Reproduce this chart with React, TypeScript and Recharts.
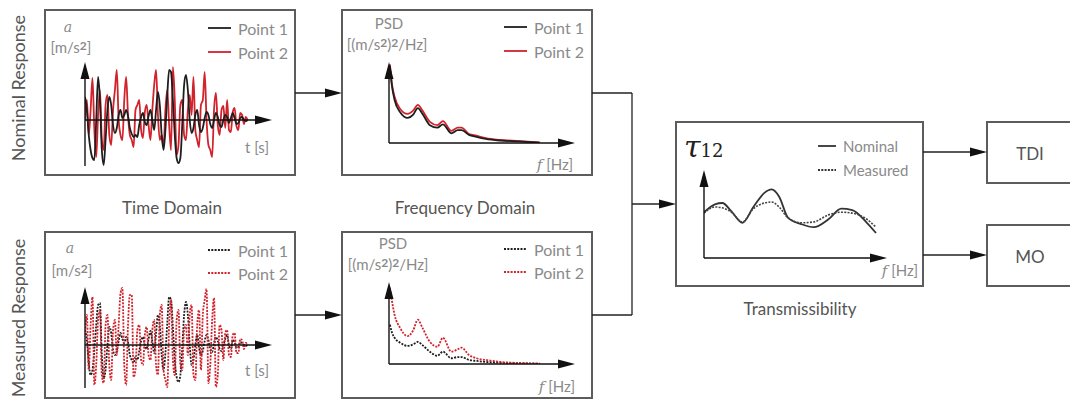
import React from "react";
import { LineChart, Line, XAxis, YAxis, ReferenceLine } from "recharts";

const FONT = "Lato, 'Open Sans', sans-serif";
const INK = "#1e1e1e";
const RED = "#d2222c";
const GRAY = "#8a8a8a";
const BOX = "#5c5c5c";

// time signals, one sample per step on a 0..100 time axis
const nominalTime1 = [
  23, 10, -15, -30, -38, -40, 0, 43, 20, -30,
  -45, -20, 10, 23, 15, -5, -13, -8, 5, 10,
  2, 5, 10, 4, -8, -14, -17, -15, -17, -5,
  3, 7, -2, -5, 4, 10, 0, -10, 10, 28,
  15, -15, -30, -10, 25, 50, 48, 20, -15, -38,
  -43, -38, -5, 35, 45, 30, 0, -13, -8, 5,
  10, -5, -12, -8, 2, 8, 5, -4, -8, 0,
  7, 3, -5, -7, 0, 5, 3, -3, 2, 7,
  2, -4, -3, 2, 3, 0, -1, 0,
];
const nominalTime2 = [
  0, 20, -15, 10, 42, -10, -37, 5, 30, -20,
  -30, 15, 25, -15, -25, 10, 30, 50, 0, -15,
  -20, 20, 43, 5, -15, -20, -27, 10, 15, 20,
  -10, -18, 8, 15, -5, -20, 10, 35, 50, 5,
  -20, -15, -27, 10, 30, -5, -30, 53, 20, -35,
  -25, 15, 20, -15, -20, 10, 25, 5, 43, -10,
  -20, -27, 15, 20, 48, 0, -25, -30, -37, 10,
  27, -5, -15, 10, 14, -8, 20, -10, -12, 8,
  12, -6, -10, 7, 5, -4, 3, 0,
];
const measuredTime1 = [
  15, 5, -18, -30, -25, -5, 20, 40, 42, -10,
  -33, -25, 0, 18, 12, -5, -10, -6, 4, 12,
  6, 2, 8, 3, -10, -15, -18, -12, -15, -6,
  4, 8, 0, -4, 6, 14, 4, -8, 12, 30,
  20, -10, -25, -8, 22, 48, 45, 18, -15, -32,
  -37, -30, -3, 30, 43, 30, 0, -20, -15, 0,
  10, -3, -10, -6, 4, 10, 5, -5, -7, 2,
  8, 4, -4, -6, 0, 6, 10, 0, -4, 5,
  3, -3, -2, 3, 2, 0, -1, 0,
];
const measuredTime2 = [
  10, 30, -25, 20, 48, -40, -20, 25, 35, -30,
  -38, 20, 30, -20, -35, 15, 25, -10, 20, 52,
  57, -20, -40, 20, 50, 50, -32, -25, 15, 20,
  -15, -20, 10, 18, -10, -15, 15, 25, -20, -30,
  30, 40, -25, -35, -42, 20, 45, -15, -30, 25,
  35, -20, -25, 15, 20, -10, 30, 40, -30, -35,
  20, 35, -25, 30, 45, 56, -38, -20, 25, 47,
  -42, -30, 20, 15, -15, 12, 15, -10, -12, 10,
  12, -8, -8, 6, 5, -4, 2, 0,
];

// PSD, frequency on a 0..100 axis
const psdFreq = [0.5, 1.5, 3, 6, 10, 13, 15.5, 18, 22, 26, 29, 33.5, 37, 39, 43, 47, 52, 60, 70, 81];
const nominalPsd1 = [95, 72, 53, 38, 31, 35, 43, 36, 22, 19, 23, 12, 16, 16, 10, 7.5, 5, 3, 2, 0.5];
const nominalPsd2 = [97, 74, 57, 42, 36, 40, 47, 40, 26, 22, 27, 15, 19, 19, 11, 9, 6, 3.7, 2.4, 0.6];
const measuredPsd1 = [48, 39, 32, 26, 22, 24, 27, 23, 15, 10, 15, 7, 8.5, 8.5, 5, 3.7, 2.5, 1.5, 0.8, 0.4];
const measuredPsd2 = [93, 78, 60, 44, 34, 41, 54, 44, 27, 21, 32, 15, 18, 20, 11, 7, 5, 2.5, 1.2, 0.5];

// transmissibility tau12
const transFreq = [0, 6, 10, 15, 21, 27, 33, 37, 41, 46, 53, 60, 68, 75, 81, 89, 94];
const transNominal = [52, 61, 62.5, 53, 40, 58, 74, 78, 70, 45.5, 38.6, 35, 44, 56, 54.5, 40, 28.4];
const transMeasured = [51, 58, 57, 52, 41, 56, 62.5, 63.6, 58, 45.5, 40, 41, 49, 52, 51, 44, 35];

const pointNames = ["Point 1", "Point 2"];
const transNames = ["Nominal", "Measured"];

const timeRows = (a: number[], b: number[]) => a.map((v, i) => ({ x: i, p1: v, p2: b[i] }));
const freqRows = (f: number[], a: number[], b: number[]) => f.map((x, i) => ({ x, p1: a[i], p2: b[i] }));

const AxisH = (p: any) => {
  const a = Math.min(p.x1, p.x2);
  const b = Math.max(p.x1, p.x2);
  const y = p.y1;
  return (
    <g>
      <line x1={a} y1={y} x2={b - 12} y2={y} stroke="#111" strokeWidth={1.4} />
      <polygon points={`${b},${y} ${b - 17},${y - 4.5} ${b - 17},${y + 4.5}`} fill="#111" />
    </g>
  );
};

const AxisV = (p: any) => {
  const top = Math.min(p.y1, p.y2);
  const bot = Math.max(p.y1, p.y2);
  const x = p.x1;
  return (
    <g>
      <line x1={x} y1={bot} x2={x} y2={top + 12} stroke="#111" strokeWidth={1.4} />
      <polygon points={`${x},${top} ${x - 4.5},${top + 17} ${x + 4.5},${top + 17}`} fill="#111" />
    </g>
  );
};

type Series = { key: string; color: string; dashed?: boolean; width?: number };

const Panel = ({ left, top, width, height, margin, data, yDomain, baseY, series }: {
  left: number; top: number; width: number; height: number;
  margin: { top: number; right: number; bottom: number; left: number };
  data: any[]; yDomain: [number, number]; baseY: number; series: Series[];
}) => (
  <div style={{ position: "absolute", left, top }}>
    <LineChart width={width} height={height} data={data} margin={margin}>
      <XAxis dataKey="x" type="number" domain={[0, 100]} allowDataOverflow hide />
      <YAxis type="number" domain={yDomain} allowDataOverflow hide />
      {series.map((s) => (
        <Line key={s.key} dataKey={s.key} type="monotone" stroke={s.color} strokeWidth={s.width ?? 1.8}
          strokeDasharray={s.dashed ? "2 1.3" : undefined} dot={false} isAnimationActive={false} />
      ))}
      <ReferenceLine y={baseY} shape={AxisH} />
      <ReferenceLine x={0} shape={AxisV} />
    </LineChart>
  </div>
);

const Txt = ({ x, y, size = 15, color = GRAY, italic, family, children }: any) => (
  <div style={{
    position: "absolute", left: x, top: y, transform: "translate(-50%, -50%)", whiteSpace: "nowrap",
    fontSize: size, color, fontStyle: italic ? "italic" : "normal", fontFamily: family ?? FONT, lineHeight: 1,
  }}>{children}</div>
);

const LegendRow = ({ x, y, color, dashed, label, len = 23, size = 16 }: any) => (
  <div style={{ position: "absolute", left: x, top: y - 10, height: 20, display: "flex", alignItems: "center", whiteSpace: "nowrap" }}>
    <svg width={len} height={4} style={{ marginRight: 7 }}>
      <line x1={0} y1={2} x2={len} y2={2} stroke={color} strokeWidth={1.8} strokeDasharray={dashed ? "2 1.3" : undefined} />
    </svg>
    <span style={{ fontSize: size, color: GRAY, fontFamily: FONT }}>{label}</span>
  </div>
);

const Arrow = ({ x1, x2, y }: { x1: number; x2: number; y: number }) => (
  <g>
    <line x1={x1} y1={y} x2={x2 - 10} y2={y} stroke="#222" strokeWidth={1.3} />
    <polygon points={`${x2},${y} ${x2 - 17},${y - 4.5} ${x2 - 17},${y + 4.5}`} fill="#111" />
  </g>
);

const solid = [{ key: "p2", color: RED }, { key: "p1", color: INK }];
const dotted = [{ key: "p1", color: INK, dashed: true }, { key: "p2", color: RED, dashed: true }];

const sq = <span style={{ fontWeight: 700, fontSize: "0.8em", verticalAlign: "0.25em" }}>2</span>;

export default function App() {
  return (
    <div style={{ position: "absolute", left: 0, top: 0, width: 1070, height: 405, overflow: "hidden", background: "#fff", fontFamily: FONT }}>
      <svg width={1070} height={405} style={{ position: "absolute", left: 0, top: 0 }}>
        <g fill="none" stroke={BOX} strokeWidth={2}>
          <rect x={45} y={10} width={250} height={165} />
          <rect x={342} y={10} width={250} height={165} />
          <rect x={45} y={232} width={250} height={166} />
          <rect x={342} y={232} width={250} height={166} />
          <rect x={676} y={122} width={247} height={164} />
          <rect x={987} y={122} width={100} height={61} />
          <rect x={987} y={225} width={100} height={61} />
        </g>
        <Arrow x1={295} x2={342} y={93} />
        <Arrow x1={295} x2={342} y={315} />
        <g stroke="#222" strokeWidth={1.3}>
          <line x1={592} y1={93} x2={632} y2={93} />
          <line x1={592} y1={315} x2={632} y2={315} />
          <line x1={632} y1={93} x2={632} y2={315} />
        </g>
        <Arrow x1={632} x2={676} y={204} />
        <Arrow x1={923} x2={987} y={152} />
        <Arrow x1={923} x2={987} y={255} />
      </svg>

      <Panel left={45} top={10} width={250} height={165} margin={{ top: 52, right: 23, bottom: 9, left: 40 }}
        data={timeRows(nominalTime1, nominalTime2)} yDomain={[-46, 58]} baseY={0} series={solid} />
      <Panel left={342} top={10} width={250} height={165} margin={{ top: 52, right: 17, bottom: 32, left: 47 }}
        data={freqRows(psdFreq, nominalPsd1, nominalPsd2)} yDomain={[0, 100]} baseY={0} series={solid} />
      <Panel left={45} top={232} width={250} height={166} margin={{ top: 55, right: 23, bottom: 10, left: 40 }}
        data={timeRows(measuredTime1, measuredTime2)} yDomain={[-43, 58]} baseY={0} series={dotted} />
      <Panel left={342} top={232} width={250} height={166} margin={{ top: 50, right: 17, bottom: 34, left: 47 }}
        data={freqRows(psdFreq, measuredPsd1, measuredPsd2)} yDomain={[0, 100]} baseY={0} series={dotted} />
      <Panel left={676} top={122} width={247} height={164} margin={{ top: 48, right: 36, bottom: 28, left: 28 }}
        data={freqRows(transFreq, transNominal, transMeasured)} yDomain={[0, 100]} baseY={0}
        series={[{ key: "p1", color: "#333", width: 1.8 }, { key: "p2", color: "#444", dashed: true, width: 1.6 }]} />

      {/* side and panel titles */}
      <div style={{ position: "absolute", left: 18, top: 88, transform: "translate(-50%, -50%) rotate(-90deg)", whiteSpace: "nowrap", fontSize: 18, color: "#555" }}>Nominal Response</div>
      <div style={{ position: "absolute", left: 18, top: 318, transform: "translate(-50%, -50%) rotate(-90deg)", whiteSpace: "nowrap", fontSize: 18, color: "#555" }}>Measured Response</div>
      <Txt x={172} y={207} size={17} color="#555">Time Domain</Txt>
      <Txt x={465} y={207} size={17} color="#555">Frequency Domain</Txt>
      <Txt x={800} y={308} size={17} color="#555">Transmissibility</Txt>
      <Txt x={1030} y={153} size={17} color="#555">TDI</Txt>
      <Txt x={1030} y={256} size={17} color="#555">MO</Txt>

      {/* axis labels */}
      <Txt x={68} y={27} italic family="'DejaVu Serif', serif" size={14}>a</Txt>
      <Txt x={71} y={47}>[m/s{sq}]</Txt>
      <Txt x={257} y={147}>t [s]</Txt>
      <Txt x={70} y={248} italic family="'DejaVu Serif', serif" size={14}>a</Txt>
      <Txt x={72} y={270}>[m/s{sq}]</Txt>
      <Txt x={257} y={370}>t [s]</Txt>

      <Txt x={389} y={23}>PSD</Txt>
      <Txt x={387} y={44}>[(m/s{sq}){sq}/Hz]</Txt>
      <Txt x={555} y={165}><i style={{ fontFamily: "'DejaVu Serif', serif" }}>f</i> [Hz]</Txt>
      <Txt x={393} y={243}>PSD</Txt>
      <Txt x={388} y={264}>[(m/s{sq}){sq}/Hz]</Txt>
      <Txt x={557} y={387}><i style={{ fontFamily: "'DejaVu Serif', serif" }}>f</i> [Hz]</Txt>
      <Txt x={900} y={271}><i style={{ fontFamily: "'DejaVu Serif', serif" }}>f</i> [Hz]</Txt>

      <div style={{ position: "absolute", left: 684, top: 132, whiteSpace: "nowrap", color: "#222", lineHeight: 1 }}>
        <span style={{ fontFamily: "'DejaVu Serif', serif", fontStyle: "italic", fontSize: 30 }}>τ</span>
        <span style={{ fontFamily: "'DejaVu Serif', serif", fontSize: 18 }}>12</span>
      </div>

      {/* legends */}
      <LegendRow x={208} y={28} color={INK} label={pointNames[0]} />
      <LegendRow x={208} y={52} color={RED} label={pointNames[1]} />
      <LegendRow x={504} y={27} color={INK} label={pointNames[0]} />
      <LegendRow x={504} y={51} color={RED} label={pointNames[1]} />
      <LegendRow x={208} y={250} color={INK} dashed label={pointNames[0]} />
      <LegendRow x={208} y={273} color={RED} dashed label={pointNames[1]} />
      <LegendRow x={504} y={249} color={INK} dashed label={pointNames[0]} />
      <LegendRow x={504} y={272} color={RED} dashed label={pointNames[1]} />
      <LegendRow x={818} y={146} color="#333" label={transNames[0]} len={18} size={15} />
      <LegendRow x={818} y={170} color="#333" dashed label={transNames[1]} len={18} size={15} />
    </div>
  );
}
